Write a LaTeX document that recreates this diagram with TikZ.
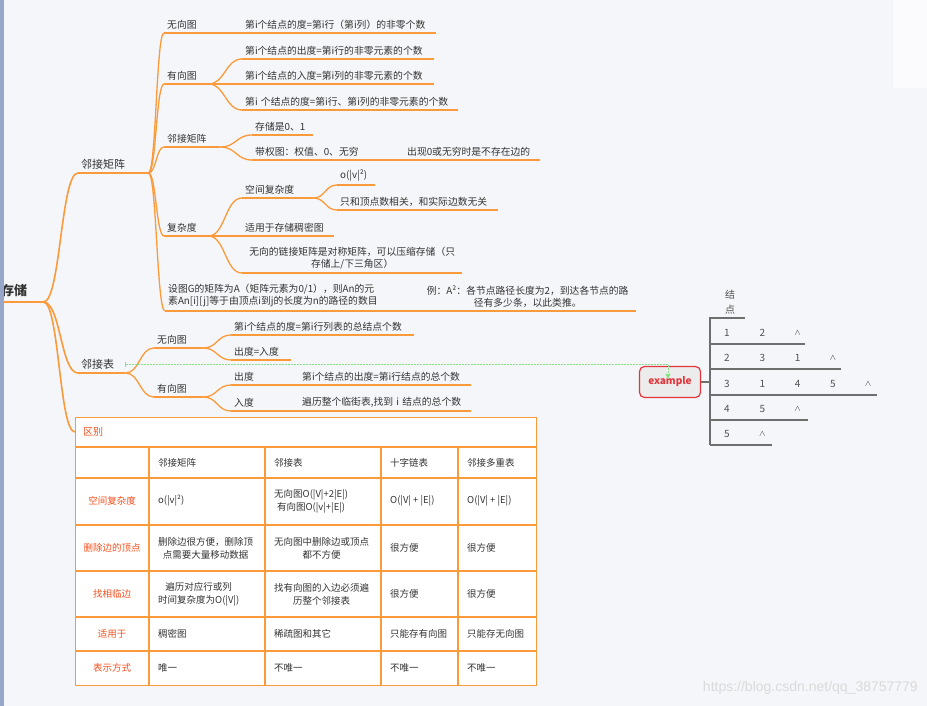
\documentclass[tikz,border=0pt]{standalone}
\usepackage{fontspec}
\setmainfont{Noto Sans CJK SC}
\newfontfamily\wmfont{Liberation Sans}
\usetikzlibrary{calc,arrows.meta}

\definecolor{bgc}{HTML}{F5F6F9}
\definecolor{barc}{HTML}{98A7C9}
\definecolor{brc}{HTML}{FA9A3A}
\definecolor{txtc}{HTML}{333333}
\definecolor{redc}{HTML}{F4511E}
\definecolor{exred}{HTML}{E2363C}
\definecolor{exfill}{HTML}{ECECEC}
\definecolor{grn}{HTML}{86E286}
\definecolor{lgray}{HTML}{6E6E6E}
\definecolor{wmc}{HTML}{DADADA}

\newcommand{\nilmark}{{\fontsize{7}{8}\selectfont ∧}}

\tikzset{
  topic/.style={anchor=south west, inner xsep=3pt, inner ysep=3.5pt, text=txtc,
    font=\fontsize{9.8}{12}\selectfont, align=left,
    text width=\the\dimexpr#1pt-6pt\relax},
  lvlone/.style={topic=#1, font=\fontsize{11}{13}\selectfont},
  branch/.style={draw=brc, line width=1.3pt, to path={
    .. controls ($(\tikztostart)!0.5!(\tikztotarget|-\tikztostart)$)
    and ($(\tikztotarget)!0.5!(\tikztostart|-\tikztotarget)$) .. (\tikztotarget)}},
  uline/.style={draw=brc, line width=1.3pt},
  tabline/.style={draw=brc, line width=1.4pt},
  cell/.style={anchor=west, inner sep=0pt, text=txtc, align=center,
    font=\fontsize{9.5}{13}\selectfont},
  rowhead/.style={cell, anchor=center, text=redc},
  listline/.style={draw=lgray, line width=1.4pt},
  lnum/.style={inner sep=0pt, text=txtc!85, font=\fontsize{10}{12}\selectfont},
  rel/.style={draw=grn, line width=1pt, dash pattern=on 1.5pt off 1.5pt}
}

\begin{document}
\begin{tikzpicture}[x=1pt,y=-1pt]
  \useasboundingbox (0,0) rectangle (927,706);
  \fill[bgc] (0,0) rectangle (927,706);
  \fill[white!60!bgc] (893,0) rectangle (927,88);

  % root and first level
  \node[topic=45, font=\bfseries\fontsize{13}{15}\selectfont, inner ysep=5pt] (root) at (-2,302) {存储};
  \node[lvlone=70] (mat) at (78,173) {邻接矩阵};
  \node[lvlone=47] (lst) at (78,373) {邻接表};
  \coordinate (tabin) at (75,432);

  % adjacency matrix
  \node[topic=51] (mu) at (164,33) {无向图};
  \node[topic=194] (mu1) at (242,33) {第i个结点的度=第i行（第i列）的非零个数};
  \node[topic=44] (md) at (164,84) {有向图};
  \node[topic=192] (md1) at (242,59) {第i个结点的出度=第i行的非零元素的个数};
  \node[topic=192] (md2) at (242,84) {第i个结点的入度=第i列的非零元素的个数};
  \node[topic=216] (md3) at (242,110) {第i 个结点的度=第i行、第i列的非零元素的个数};
  \node[topic=56] (mm) at (164,147) {邻接矩阵};
  \node[topic=61] (mm1) at (252,135) {存储是0、1};
  \node[topic=152] (mm2) at (252,160) {带权图：权值、0、无穷};
  \node[topic=136] (mm3) at (404,160) {出现0或无穷时是不存在边的};
  \node[topic=44] (mc) at (164,236) {复杂度};
  \node[topic=71] (mc1) at (242,198) {空间复杂度};
  \node[topic=38] (mc11) at (337,185) {o(|v|²)};
  \node[topic=161] (mc12) at (337,210) {只和顶点数相关，和实际边数无关};
  \node[topic=92] (mc2) at (242,236) {适用于存储稠密图};
  \node[topic=220, align=center] (mc3) at (242,273) {无向的链接矩阵是对称矩阵，可以压缩存储（只\\存储上/下三角区）};
  \node[topic=254] (mg) at (165,311) {设图G的矩阵为A（矩阵元素为0/1），则An的元\\素An[i][j]等于由顶点i到j的长度为n的路径的数目};
  \node[topic=217, align=center] (mgx) at (419,311) {例：A²：各节点路径长度为2，到达各节点的路\\径有多少条，以此类推。};

  % adjacency list
  \node[topic=49] (lu) at (154,348) {无向图};
  \node[topic=183] (lu1) at (231,335) {第i个结点的度=第i行列表的总结点个数};
  \node[topic=60] (lu2) at (231,360) {出度=入度};
  \node[topic=49] (ld) at (154,397) {有向图};
  \node[topic=68] (ld1) at (231,385) {出度};
  \node[topic=172] (ld11) at (299,385) {第i个结点的出度=第i行结点的总个数};
  \node[topic=68] (ld2) at (231,411) {入度};
  \node[topic=172] (ld21) at (299,411) {遍历整个临街表,找到 i 结点的总个数};

  \foreach \n in {root,mat,lst,mu,mu1,md,md1,md2,md3,mm,mm1,mm2,mm3,mc,mc1,mc11,mc12,mc2,mc3,mg,mgx,lu,lu1,lu2,ld,ld1,ld11,ld2,ld21}
    \draw[uline] (\n.south west) -- (\n.south east);

  \foreach \a/\b in {root/mat,root/lst}
    \draw[branch, line width=1.6pt] (\a.south east) to (\b.south west);
  \draw[branch, line width=1.6pt] (root.south east) to (tabin);
  \foreach \a/\b in {mat/mu,mat/md,mat/mm,mat/mc,mat/mg,mu/mu1,md/md1,md/md2,md/md3,mm/mm1,mm/mm2,mm2/mm3,mc/mc1,mc/mc2,mc/mc3,mc1/mc11,mc1/mc12,mg/mgx,lst/lu,lst/ld,lu/lu1,lu/lu2,ld/ld1,ld/ld2,ld1/ld11,ld2/ld21}
    \draw[branch] (\a.south east) to (\b.south west);

  % comparison table
  \node[tabline, fill=white, minimum width=461, minimum height=268, anchor=north west, inner sep=0pt] (tab) at (75,417) {};
  \foreach \y in {447,478,525,571,617,651}
    \draw[tabline] (75,\y) -- (536,\y);
  \foreach \x in {149,265,381,458}
    \draw[tabline] (\x,447) -- (\x,685);
  \node[cell, text=redc, font=\fontsize{10}{12}\selectfont] (diff) at (83,432) {区别};

  \node[cell] (c1) at (158,463) {邻接矩阵};
  \node[cell] (c2) at (274,463) {邻接表};
  \node[cell] (c3) at (390,463) {十字链表};
  \node[cell] (c4) at (467,463) {邻接多重表};

  \node[rowhead] (r1) at (112,501) {空间复杂度};
  \node[cell] (r1c1) at (158,501) {o(|v|²)};
  \node[cell] (r1c2) at (274,501) {无向图O(|V|+2|E|)\\有向图O(|v|+|E|)};
  \node[cell] (r1c3) at (390,501) {O(|V| + |E|)};
  \node[cell] (r1c4) at (467,501) {O(|V| + |E|)};

  \node[rowhead] (r2) at (112,548) {删除边的顶点};
  \node[cell] (r2c1) at (158,548) {删除边很方便，删除顶\\点需要大量移动数据};
  \node[cell] (r2c2) at (274,548) {无向图中删除边或顶点\\都不方便};
  \node[cell] (r2c3) at (390,548) {很方便};
  \node[cell] (r2c4) at (467,548) {很方便};

  \node[rowhead] (r3) at (112,594) {找相临边};
  \node[cell] (r3c1) at (158,594) {遍历对应行或列\\时间复杂度为O(|V|)};
  \node[cell] (r3c2) at (274,594) {找有向图的入边必须遍\\历整个邻接表};
  \node[cell] (r3c3) at (390,594) {很方便};
  \node[cell] (r3c4) at (467,594) {很方便};

  \node[rowhead] (r4) at (112,634) {适用于};
  \node[cell] (r4c1) at (158,634) {稠密图};
  \node[cell] (r4c2) at (274,634) {稀疏图和其它};
  \node[cell] (r4c3) at (390,634) {只能存有向图};
  \node[cell] (r4c4) at (467,634) {只能存无向图};

  \node[rowhead] (r5) at (112,668) {表示方式};
  \node[cell] (r5c1) at (158,668) {唯一};
  \node[cell] (r5c2) at (274,668) {不唯一};
  \node[cell] (r5c3) at (390,668) {不唯一};
  \node[cell] (r5c4) at (467,668) {不唯一};

  % example: adjacency list drawing
  \node[draw=exred, fill=exfill, line width=1.2pt, rounded corners=5pt, minimum width=61, minimum height=31, text=exred, font=\bfseries\fontsize{10}{12}\selectfont] (ex) at (670,382) {example};
  \coordinate (sp) at (710,382);
  \draw[listline] (ex.east) -- (sp);
  \draw[listline] (745,318) -- (710,318) -- (710,445);
  \foreach \y/\e in {344/805,369/841,395/877,420/808,445/772}
    \draw[listline] (710,\y) -- (\e,\y);
  \node[lnum, align=center, font=\fontsize{10}{15}\selectfont] (hd) at (730,302) {结\\点};
  \foreach \y/\vals [count=\r] in {333/{1,2,\nilmark},358/{2,3,1,\nilmark},384/{3,1,4,5,\nilmark},409/{4,5,\nilmark},434/{5,\nilmark}}
    \foreach \v [count=\k] in \vals
      \node[lnum] (v\r\k) at ({727+35.3*(\k-1)},\y) {\v};

  \coordinate (exin) at ($(ex.north)+(-2,13)$);
  \draw[rel, {Bar[width=5pt]}-{Triangle[width=5pt,length=5pt]}] (lst.east) -| (exin);

  \node[anchor=east, text=wmc, font=\wmfont\fontsize{14}{16}\selectfont, inner sep=0pt] (wm) at (918,688) {https://blog.csdn.net/qq\_38757779};

  \fill[barc] (0,0) rectangle (4,706);
\end{tikzpicture}
\end{document}
